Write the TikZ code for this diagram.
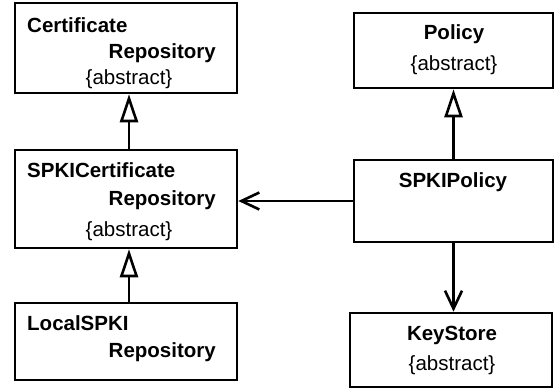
\documentclass[tikz,border=0pt]{standalone}
\usepackage{fontspec}
\setmainfont{Liberation Sans}
\usetikzlibrary{arrows.meta}
\begin{document}
\begin{tikzpicture}[x=1pt,y=-1pt,
  box/.style={draw,line width=2.6pt},
  nm/.style={font=\fontsize{20.5}{24}\selectfont\bfseries,inner sep=0pt},
  ab/.style={font=\fontsize{20.5}{24}\selectfont,inner sep=0pt},
  gen/.style={line width=2.6pt,-{Triangle[open,length=28pt,width=18pt,line width=2.6pt]}},
  assoc/.style={line width=2.6pt,-{Straight Barb[length=18pt,width=17pt,line width=2.6pt]}}]
\useasboundingbox (0,0) rectangle (556,389);
% boxes
\node[box,minimum width=222pt,minimum height=90pt,inner sep=0pt] (cr) at (126,48) {};
\node[box,minimum width=222pt,minimum height=98pt,inner sep=0pt] (scr) at (126,199) {};
\node[box,minimum width=222pt,minimum height=77pt,inner sep=0pt] (lsr) at (126,341.5) {};
\node[box,minimum width=199pt,minimum height=75pt,inner sep=0pt] (pol) at (453.5,50.5) {};
\node[box,minimum width=199pt,minimum height=82pt,inner sep=0pt] (sp) at (453.5,201) {};
\node[box,minimum width=202pt,minimum height=74pt,inner sep=0pt] (ks) at (451,350) {};
% texts
\node[nm,anchor=base west] (t1) at (27,32) {Certificate};
\node[nm,anchor=base east] (t2) at (216,58) {Repository};
\node[ab,anchor=base] (t3) at (129,84) {\{abstract\}};
\node[nm,anchor=base west] (t4) at (27,177) {SPKICertificate};
\node[nm,anchor=base east] (t5) at (216,205) {Repository};
\node[ab,anchor=base] (t6) at (129,236) {\{abstract\}};
\node[nm,anchor=base west] (t7) at (27,330) {LocalSPKI};
\node[nm,anchor=base east] (t8) at (216,357) {Repository};
\node[nm,anchor=base] (t9) at (454,39) {Policy};
\node[ab,anchor=base] (t10) at (454,70) {\{abstract\}};
\node[nm,anchor=base] (t11) at (453,187) {SPKIPolicy};
\node[nm,anchor=base] (t12) at (452,340) {KeyStore};
\node[ab,anchor=base] (t13) at (452,370) {\{abstract\}};
% connectors
\draw[gen] (scr.north -| 129,0) -- (cr.south -| 129,0);
\draw[gen] (lsr.north -| 129,0) -- (scr.south -| 129,0);
\draw[gen] (sp.north) -- (pol.south);
\draw[assoc] (sp.west |- 0,201) -- (scr.east |- 0,201);
\draw[assoc] (sp.south) -- (sp.south |- ks.north);
\end{tikzpicture}
\end{document}
